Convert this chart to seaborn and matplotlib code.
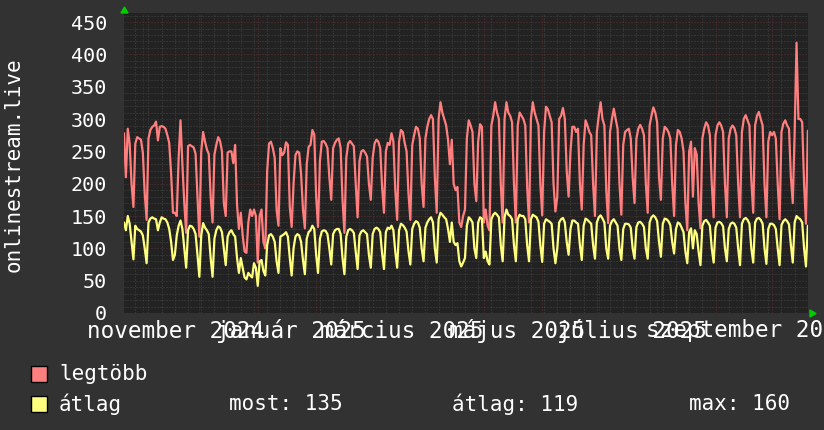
import pandas as pd
import numpy as np
import matplotlib
matplotlib.use("Agg")
import matplotlib.pyplot as plt
import matplotlib.dates as mdates
import matplotlib.ticker as mticker
import seaborn as sns

# daily values 2024-10-22 .. 2025-10-20, one row per week (Mon..Sun)
legtobb = [
    278, 210, 285, 262, 200, 164,
    262, 272, 270, 268, 248, 185, 144,
    270, 283, 288, 290, 296, 267, 288,
    289, 288, 285, 275, 263, 216, 155,
    155, 150, 240, 298, 230, 170, 124,
    258, 260, 258, 256, 246, 180, 118,
    250, 280, 265, 253, 246, 180, 140,
    245, 260, 272, 266, 250, 170, 150,
    248, 250, 250, 232, 260, 167, 130,
    155, 120, 95, 93, 140, 160, 150,
    160, 150, 78, 150, 160, 110, 100,
    220, 262, 265, 255, 240, 160, 135,
    255, 244, 248, 264, 260, 164, 133,
    200, 244, 250, 248, 215, 160, 131,
    230, 257, 260, 283, 276, 180, 133,
    235, 265, 266, 262, 255, 210, 175,
    255, 263, 268, 270, 255, 175, 124,
    240, 262, 266, 262, 258, 200, 148,
    235, 250, 252, 248, 242, 200, 175,
    240, 262, 268, 265, 255, 195, 155,
    250, 263, 260, 278, 265, 190, 144,
    265, 283, 280, 263, 250, 185, 144,
    260, 275, 288, 285, 270, 200, 164,
    270, 288, 300, 306, 300, 210, 155,
    300, 326, 310, 300, 290, 268, 230,
    268, 200, 190, 195, 140, 133, 150,
    160, 270, 298, 290, 280, 200, 173,
    265, 292, 288, 140, 160, 135, 128,
    290, 305, 326, 310, 300, 200, 140,
    300, 326, 310, 305, 295, 200, 140,
    290, 310, 305, 300, 290, 195, 140,
    300, 326, 310, 300, 290, 200, 151,
    280, 319, 315, 305, 295, 200, 157,
    180, 300, 305, 317, 300, 220, 180,
    250, 288, 288, 280, 285, 200, 160,
    260, 298, 290, 280, 275, 200, 150,
    280, 305, 326, 300, 290, 190, 139,
    280, 300, 316, 300, 285, 200, 152,
    260, 280, 283, 285, 270, 210, 170,
    270, 285, 291, 285, 275, 200, 155,
    290, 305, 318, 310, 295, 210, 175,
    270, 288, 285, 280, 270, 200, 150,
    260, 283, 280, 270, 250, 170, 128,
    250, 265, 180, 255, 245, 170, 131,
    270, 285, 295, 290, 275, 200, 148,
    275, 290, 295, 290, 280, 200, 148,
    270, 285, 290, 286, 275, 200, 148,
    280, 300, 306, 298, 290, 205, 155,
    290, 305, 311, 300, 290, 200, 148,
    265, 280, 275, 280, 270, 200, 145,
    280, 293, 298, 290, 285, 210, 170,
    280, 418, 300, 300, 295, 200, 138,
    282,
]

atlag = [
    140, 128, 150, 138, 110, 83,
    135, 130, 128, 126, 120, 100, 77,
    140, 146, 148, 146, 145, 128, 140,
    148, 146, 145, 140, 130, 110, 82,
    90, 120, 135, 143, 130, 100, 70,
    128, 135, 134, 130, 122, 90, 56,
    120, 139, 132, 128, 122, 85, 56,
    115, 128, 134, 132, 125, 100, 74,
    118, 125, 128, 122, 118, 85, 62,
    85, 70, 55, 52, 62, 58, 55,
    77, 70, 42, 80, 82, 65, 58,
    105, 120, 122, 118, 110, 80, 62,
    118, 120, 122, 125, 118, 85, 58,
    100, 118, 122, 120, 110, 82, 60,
    115, 125, 128, 135, 130, 90, 62,
    115, 126, 128, 127, 122, 100, 75,
    122, 128, 130, 130, 122, 85, 60,
    118, 128, 130, 128, 124, 95, 68,
    120, 126, 128, 125, 122, 90, 70,
    122, 130, 132, 130, 125, 92, 68,
    125, 132, 130, 135, 128, 95, 70,
    128, 138, 136, 132, 126, 96, 75,
    130, 138, 142, 140, 132, 100, 80,
    132, 140, 145, 148, 140, 100, 78,
    145, 155, 152, 148, 145, 130, 110,
    140, 110, 105, 108, 80, 72, 78,
    85, 135, 148, 145, 140, 100, 85,
    140, 148, 146, 85, 95, 80, 75,
    145, 152, 155, 152, 148, 105, 80,
    148, 160, 152, 150, 145, 105, 80,
    145, 152, 150, 150, 145, 105, 80,
    145, 152, 150, 148, 141, 105, 79,
    138, 145, 143, 141, 138, 100, 77,
    100, 140, 145, 147, 140, 110, 90,
    130, 143, 143, 140, 138, 105, 82,
    135, 146, 144, 141, 138, 105, 84,
    140, 148, 151, 146, 140, 100, 84,
    135, 142, 145, 140, 135, 100, 82,
    130, 138, 138, 137, 132, 100, 84,
    133, 140, 141, 138, 133, 100, 84,
    140, 148, 151, 148, 142, 110, 87,
    138, 146, 145, 142, 136, 110, 92,
    130, 140, 138, 132, 125, 95, 77,
    125, 131, 100, 128, 122, 95, 74,
    135, 142, 144, 140, 135, 100, 78,
    132, 140, 141, 139, 134, 100, 80,
    130, 138, 140, 138, 132, 100, 74,
    138, 145, 147, 144, 138, 100, 78,
    140, 146, 147, 144, 138, 100, 76,
    130, 138, 138, 136, 130, 100, 74,
    136, 142, 145, 142, 137, 105, 78,
    140, 150, 147, 145, 140, 100, 72,
    135,
]

month_labels = ["november 2024", "január 2025", "március 2025",
                "május 2025", "július 2025", "szeptember 2025"]
month_starts = ["2024-11-01", "2025-01-01", "2025-03-01",
                "2025-05-01", "2025-07-01", "2025-09-01"]
legend_stats = ["most: 135", "átlag: 119", "max: 160"]

RED = "#ff7f7f"
YELLOW = "#ffff7f"
BG = "#323232"
CANVAS = "#222222"

dates = pd.date_range("2024-10-22", periods=len(legtobb), freq="D")
df = pd.DataFrame({"datum": dates, "legtöbb": legtobb, "átlag": atlag})

sns.set_style("dark")
plt.rcParams["font.family"] = ["DejaVu Sans Mono", "DejaVu Sans"]

fig = plt.figure(figsize=(8.24, 4.30), dpi=100, facecolor=BG)
ax = fig.add_axes([124 / 824, 117 / 430, 684 / 824, 300 / 430])
ax.set_facecolor(CANVAS)

sns.lineplot(data=df, x="datum", y="legtöbb", color=RED, linewidth=1.6, ax=ax, zorder=3)
sns.lineplot(data=df, x="datum", y="átlag", color=YELLOW, linewidth=1.6, ax=ax, zorder=4)

ax.set_xlim(pd.Timestamp("2024-10-22"), pd.Timestamp("2025-10-20 02:00"))
ax.set_ylim(0, 464)

# grid: weekly / 10 minor, monthly / 50 major
ax.xaxis.set_major_locator(mdates.MonthLocator())
ax.xaxis.set_minor_locator(mdates.WeekdayLocator(byweekday=mdates.MO))
ax.yaxis.set_major_locator(mticker.MultipleLocator(50))
ax.yaxis.set_minor_locator(mticker.MultipleLocator(10))
ax.grid(False)
ax.grid(which="minor", color="#444444", linestyle=(0, (1, 2)), linewidth=0.72)
ax.grid(which="major", color="#5e2f2f", linestyle=(0, (1, 2)), linewidth=0.72)
ax.set_axisbelow(True)

ax.set_xticklabels([])
ax.tick_params(axis="x", which="both", length=0)
ax.tick_params(axis="y", which="both", length=0, pad=12, labelsize=14.5, labelcolor="white")
ax.set_yticks(np.arange(0, 451, 50))
ax.set_xlabel("")
ax.set_ylabel("")
for s in ax.spines.values():
    s.set_visible(False)

for lab, start in zip(month_labels, month_starts):
    ax.text(pd.Timestamp(start) + pd.Timedelta(days=17.5), -0.06, lab,
            transform=ax.get_xaxis_transform(), ha="center", va="center",
            color="white", fontsize=16.3)

fig.text(14 / 824, 1 - 165 / 430, "onlinestream.live", rotation=90,
         ha="center", va="center", color="white", fontsize=15)

# axis arrows
fig.patches.append(plt.Polygon([[121 / 824, 1 - 13 / 430], [128 / 824, 1 - 13 / 430],
                                [124.5 / 824, 1 - 7 / 430]], closed=True,
                               transform=fig.transFigure, color="#00cc00"))
fig.patches.append(plt.Polygon([[810 / 824, 1 - 310 / 430], [810 / 824, 1 - 317 / 430],
                                [816 / 824, 1 - 313.5 / 430]], closed=True,
                               transform=fig.transFigure, color="#00cc00"))

# legend
for i, (name, col) in enumerate([("legtöbb", RED), ("átlag", YELLOW)]):
    yc = 374 + 30 * i
    fig.patches.append(plt.Rectangle((31 / 824, 1 - (yc + 8) / 430), 16 / 824, 16 / 430,
                                     transform=fig.transFigure, facecolor=col,
                                     edgecolor="black", linewidth=1))
    fig.text(59 / 824, 1 - yc / 430, name, ha="left", va="center",
             color="white", fontsize=15)

for xpos, s in zip([229, 452, 689], legend_stats):
    fig.text(xpos / 824, 1 - 404 / 430, s, ha="left", va="center",
             color="white", fontsize=15)

fig.savefig("out.png", dpi=100, facecolor=BG)
